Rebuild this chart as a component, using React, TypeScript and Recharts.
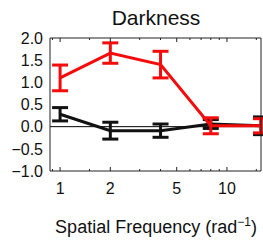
import React from "react";
import {
  LineChart,
  Line,
  XAxis,
  YAxis,
  ErrorBar,
  ReferenceLine,
} from "recharts";

// spatial frequencies (rad^-1)
const freqs = [1, 2, 4, 8, 16];
const redValues = [1.1, 1.66, 1.4, 0.02, 0.02];
const redErrors = [0.29, 0.23, 0.3, 0.18, 0.16];
const blackValues = [0.28, -0.09, -0.09, 0.06, 0.02];
const blackErrors = [0.15, 0.19, 0.15, 0.1, 0.2];

const xMajorTicks = [1, 2, 5, 10];
const xMinorTicks = [0.9, 1.5, 3, 4, 6, 7, 8, 9, 15];
const yMajorTicks = [-1, -0.5, 0, 0.5, 1, 1.5, 2];
const yMinorTicks = [
  -0.9, -0.8, -0.7, -0.6, -0.4, -0.3, -0.2, -0.1, 0.1, 0.2, 0.3, 0.4, 0.6,
  0.7, 0.8, 0.9, 1.1, 1.2, 1.3, 1.4, 1.6, 1.7, 1.8, 1.9,
];

const data = freqs.map((f, i) => ({
  f,
  red: redValues[i],
  redErr: redErrors[i],
  black: blackValues[i],
  blackErr: blackErrors[i],
}));

const X_DOMAIN: [number, number] = [0.87, 16];
const Y_DOMAIN: [number, number] = [-1, 2];
const FRAME = "#222";
const RED = "#f40c0c";
const FONT = "'Liberation Sans', Arial, sans-serif";

const xAllTicks = [...xMajorTicks, ...xMinorTicks].sort((a, b) => a - b);
const yAllTicks = [...yMajorTicks, ...yMinorTicks].sort((a, b) => a - b);

const fmtY = (v: number) => {
  const s = Math.abs(v).toFixed(1);
  return v < 0 ? "\u2212" + s : s;
};

// inward frame tick, longer on the major values
const frameTick = (side: string, majors: number[]) => (p: any) => {
  const v = p.payload.value;
  const len = majors.includes(v) ? 4 : 2;
  const { x, y } = p;
  let x2 = x;
  let y2 = y;
  if (side === "top") y2 = y + len;
  if (side === "bottom") y2 = y - len;
  if (side === "left") x2 = x + len;
  if (side === "right") x2 = x - len;
  return <line x1={x} y1={y} x2={x2} y2={y2} stroke={FRAME} strokeWidth={1} />;
};

export default function App() {
  return (
    <div
      style={{
        position: "absolute",
        left: 0,
        top: 0,
        width: 263,
        height: 244,
        background: "#fff",
        fontFamily: FONT,
      }}
    >
      <div
        style={{
          position: "absolute",
          left: 0,
          width: 312,
          top: 7,
          textAlign: "center",
          fontSize: 21,
          lineHeight: 1,
          color: "#111",
        }}
      >
        Darkness
      </div>
      <LineChart
        width={263}
        height={244}
        data={data}
        margin={{ top: 38, right: 2, bottom: 0, left: 0 }}
      >
        <XAxis
          xAxisId="main"
          dataKey="f"
          type="number"
          scale="log"
          domain={X_DOMAIN}
          ticks={xMajorTicks}
          interval={0}
          height={73}
          tickLine={false}
          tickSize={0}
          tickMargin={12}
          axisLine={{ stroke: FRAME, strokeWidth: 1 }}
          tick={{ fill: "#111", fontSize: 16, fontFamily: FONT }}
        />
        <YAxis
          yAxisId="main"
          type="number"
          domain={Y_DOMAIN}
          ticks={yMajorTicks}
          interval={0}
          width={50}
          tickLine={false}
          tickSize={0}
          tickMargin={7}
          tickFormatter={fmtY}
          axisLine={{ stroke: FRAME, strokeWidth: 1 }}
          tick={{ fill: "#111", fontSize: 16, fontFamily: FONT }}
        />
        {["top", "bottom"].map((side) => (
          <XAxis
            key={side}
            xAxisId={side}
            dataKey="f"
            type="number"
            scale="log"
            domain={X_DOMAIN}
            ticks={xAllTicks}
            interval={0}
            orientation={side as "top" | "bottom"}
            mirror
            height={1}
            tickSize={0}
            tickMargin={0}
            tickLine={false}
            tick={frameTick(side, xMajorTicks)}
            axisLine={side === "top" ? { stroke: FRAME } : false}
          />
        ))}
        {["left", "right"].map((side) => (
          <YAxis
            key={side}
            yAxisId={side}
            type="number"
            domain={Y_DOMAIN}
            ticks={yAllTicks}
            interval={0}
            orientation={side as "left" | "right"}
            mirror
            width={1}
            tickSize={0}
            tickMargin={0}
            tickLine={false}
            tick={frameTick(side, yMajorTicks)}
            axisLine={side === "right" ? { stroke: FRAME } : false}
          />
        ))}
        <ReferenceLine
          xAxisId="main"
          yAxisId="main"
          y={0}
          stroke="#000"
          strokeWidth={1}
        />
        <Line
          xAxisId="main"
          yAxisId="main"
          dataKey="black"
          stroke="#111"
          strokeWidth={3}
          dot={false}
          isAnimationActive={false}
        >
          <ErrorBar
            dataKey="blackErr"
            direction="y"
            width={8}
            stroke="#111"
            strokeWidth={3}
            isAnimationActive={false}
          />
        </Line>
        <Line
          xAxisId="main"
          yAxisId="main"
          dataKey="red"
          stroke={RED}
          strokeWidth={3}
          dot={false}
          isAnimationActive={false}
        >
          <ErrorBar
            dataKey="redErr"
            direction="y"
            width={8}
            stroke={RED}
            strokeWidth={3}
            isAnimationActive={false}
          />
        </Line>
      </LineChart>
      <div
        style={{
          position: "absolute",
          left: 0,
          width: 312,
          top: 216,
          textAlign: "center",
          fontSize: 18,
          lineHeight: 1,
          color: "#111",
        }}
      >
        Spatial Frequency (rad<sup style={{ fontSize: 12 }}>{"\u22121"}</sup>)
      </div>
    </div>
  );
}
